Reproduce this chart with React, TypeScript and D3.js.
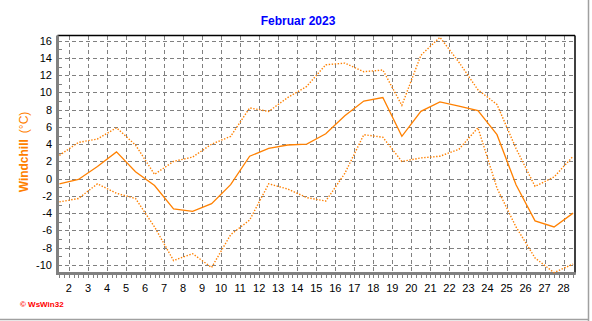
import React from "react";
import * as d3 from "d3";

const days = [1.5, 2.5, 3.5, 4.5, 5.5, 6.5, 7.5, 8.5, 9.5, 10.5, 11.5, 12.5, 13.5, 14.5, 15.5, 16.5, 17.5, 18.5, 19.5, 20.5, 21.5, 22.5, 23.5, 24.5, 25.5, 26.5, 27.5, 28.5];
const meanVals = [-0.6, -0.1, 1.4, 3.1, 0.8, -0.8, -3.5, -3.8, -2.9, -0.7, 2.6, 3.5, 3.9, 4.0, 5.2, 7.3, 9.0, 9.4, 4.9, 7.8, 8.9, 8.4, 7.9, 5.1, -0.7, -4.9, -5.6, -4.0];
const maxVals = [2.7, 4.2, 4.6, 5.9, 3.9, 0.5, 2.0, 2.5, 4.0, 4.9, 8.2, 7.8, 9.4, 10.7, 13.2, 13.4, 12.4, 12.6, 8.5, 14.3, 16.4, 13.5, 10.3, 8.6, 3.5, -0.9, 0.2, 2.6];
const minVals = [-2.7, -2.3, -0.6, -1.7, -2.3, -5.6, -9.5, -8.7, -10.3, -6.5, -4.8, -0.6, -1.2, -2.2, -2.6, 0.6, 5.1, 4.8, 2.0, 2.4, 2.6, 3.4, 5.9, -1.1, -5.6, -9.2, -10.9, -9.9];
const xTicks = d3.range(2, 29);
const yTicks = d3.range(-10, 17, 2);
const title = "Februar 2023";
const yLabelMain = "Windchill";
const yLabelUnit = "(°C)";

export default function App() {
  const W = 592, H = 321;
  const x = d3.scaleLinear().domain([1.4, 28.6]).range([57.5, 575]);
  const y = d3.scaleLinear().domain([-11, 16.6]).range([273.5, 35.5]);
  const mk = (vals: number[]) =>
    d3.line<number>().x((_, i) => x(days[i])).y((v) => y(v))(vals) || "";
  const orange = "#ff8000";
  const left = x.range()[0], right = x.range()[1];
  const top = y.range()[1], bottom = y.range()[0];
  const minorX = d3.range(1.5, 28.6, 0.25);
  const minorY = d3.range(-10, 17, 1);
  return (
    <svg width={W} height={H} style={{ position: "absolute", left: 0, top: 0, background: "#fff" }} fontFamily="Liberation Sans, Arial, sans-serif">
      <rect x={0} y={0} width={W} height={H} fill="#fff" />
      <line x1={588.5} y1={0} x2={588.5} y2={H} stroke="#a0a0a0" strokeWidth={1.5} />
      <line x1={0} y1={319.5} x2={589} y2={319.5} stroke="#a0a0a0" strokeWidth={1.5} />
      <text x={298} y={25} textAnchor="middle" fontWeight="bold" fontSize={12} fill="#0000ff">{title}</text>
      <g stroke="#808080" strokeWidth={1} strokeDasharray="4,3" shapeRendering="crispEdges">
        {xTicks.map((d) => (
          <line key={"gx" + d} x1={Math.round(x(d)) + 0.5} x2={Math.round(x(d)) + 0.5} y1={top} y2={bottom} />
        ))}
        {yTicks.map((d) => (
          <line key={"gy" + d} x1={left} x2={right} y1={Math.round(y(d)) + 0.5} y2={Math.round(y(d)) + 0.5} />
        ))}
      </g>
      <line x1={left} x2={right} y1={top} y2={top} stroke="#000" strokeWidth={1.5} />
      <line x1={right} x2={right} y1={top} y2={bottom} stroke="#000" strokeWidth={1.5} />
      <line x1={left} x2={left} y1={top} y2={bottom + 1.5} stroke="#808080" strokeWidth={3} />
      <line x1={left} x2={right + 0.75} y1={bottom} y2={bottom} stroke="#808080" strokeWidth={3} />
      <g stroke="#808080" strokeWidth={1} shapeRendering="crispEdges">
        {minorX.map((d, i) => (
          <line key={"mx" + i} x1={Math.round(x(d)) + 0.5} x2={Math.round(x(d)) + 0.5} y1={bottom} y2={bottom + 4} />
        ))}
        {minorY.map((d, i) => (
          <line key={"my" + i} x1={left} x2={left + 4} y1={Math.round(y(d)) + 0.5} y2={Math.round(y(d)) + 0.5} />
        ))}
      </g>
      <g fontSize={11} fill="#000">
        {xTicks.map((d) => (
          <text key={"tx" + d} x={x(d)} y={292} textAnchor="middle">{d}</text>
        ))}
        {yTicks.map((d) => (
          <text key={"ty" + d} x={52} y={y(d) + 4} textAnchor="end">{d}</text>
        ))}
      </g>
      <text transform="translate(28,152) rotate(-90)" textAnchor="middle" fontSize={12} fill={orange}>
        <tspan fontWeight="bold">{yLabelMain}</tspan>
        <tspan dx={6}>{yLabelUnit}</tspan>
      </text>
      <path d={mk(maxVals)} fill="none" stroke={orange} strokeWidth={1.4} strokeDasharray="1.4,1.6" />
      <path d={mk(minVals)} fill="none" stroke={orange} strokeWidth={1.4} strokeDasharray="1.4,1.6" />
      <path d={mk(meanVals)} fill="none" stroke={orange} strokeWidth={1.3} />
      <text x={20} y={307} fontSize={8} fontWeight="bold" fill="#ff0000">© WsWin32</text>
    </svg>
  );
}
